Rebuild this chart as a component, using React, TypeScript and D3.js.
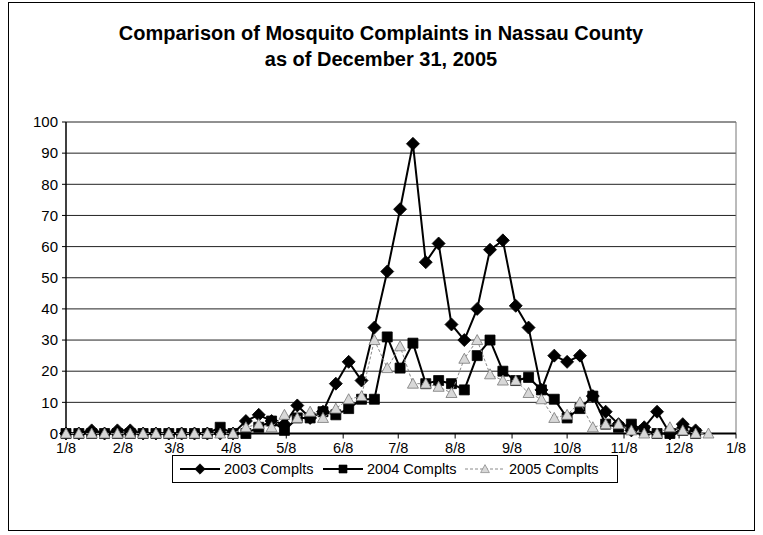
import React from 'react';
import * as d3 from 'd3';

const titleLines = ['Comparison of Mosquito Complaints in Nassau County', 'as of December 31, 2005'];
const seriesNames = ['2003 Complts', '2004 Complts', '2005 Complts'];
const xTickLabels = ['1/8', '2/8', '3/8', '4/8', '5/8', '6/8', '7/8', '8/8', '9/8', '10/8', '11/8', '12/8', '1/8'];
const yTicks = [0, 10, 20, 30, 40, 50, 60, 70, 80, 90, 100];

// weekly complaint counts, first week = 1/8
const complts2003 = [0, 0, 1, 0, 1, 1, 0, 0, 0, 0, 0, 0, 0, 0, 4, 6, 4, 3, 9, 5, 7, 16, 23, 17, 34, 52, 72, 93, 55, 61, 35, 30, 40, 59, 62, 41, 34, 14, 25, 23, 25, 12, 7, 3, 1, 2, 7, 0, 3, 1];
const complts2004 = [0, 0, 0, 0, 0, 0, 0, 0, 0, 0, 0, 0, 2, 0, 0, 2, 4, 1, 5, 5, 7, 6, 8, 11, 11, 31, 21, 29, 16, 17, 16, 14, 25, 30, 20, 17, 18, 14, 11, 5, 8, 12, 3, 2, 3, 1, 0, 0, 1, 0];
const complts2005 = [0, 0, 0, 0, 0, 0, 0, 0, 0, 0, 0, 0, 0, 0, 2, 3, 2, 6, 5, 7, 5, 8, 11, 12, 30, 21, 28, 16, 16, 15, 13, 24, 30, 19, 17, 17, 13, 11, 5, 6, 10, 2, 3, 3, 1, 0, 0, 2, 1, 0, 0];

const start = new Date(2005, 0, 8);
const weekDate = (i: number) => d3.timeDay.offset(start, 7 * i);

const diamond = 'M0,-6.5L6.5,0L0,6.5L-6.5,0Z';
const square = 'M-5,-5H5V5H-5Z';
const triangle = 'M0,-5.5L5.5,4.5L-5.5,4.5Z';

const font = 'Arial, "Liberation Sans", sans-serif';

const App = () => {
  const left = 66, right = 736, top = 122, bottom = 433.5;
  const x = d3.scaleTime().domain([start, new Date(2006, 0, 8)]).range([left, right]);
  const y = d3.scaleLinear().domain([0, 100]).range([bottom, top]);
  const monthTicks = xTickLabels.map((_, m) => new Date(2005, m, 8));

  const line = d3.line<number>().x((_, i) => x(weekDate(i))).y(d => y(d));

  const series = [
    { name: seriesNames[0], data: complts2003, stroke: '#000', width: 2, dash: undefined, marker: diamond, fill: '#000', mstroke: '#000' },
    { name: seriesNames[1], data: complts2004, stroke: '#000', width: 2, dash: undefined, marker: square, fill: '#000', mstroke: '#000' },
    { name: seriesNames[2], data: complts2005, stroke: '#8a8a8a', width: 1, dash: '3,2', marker: triangle, fill: '#d8d8d8', mstroke: '#777' },
  ];

  const legendX = [180, 323, 465];

  return (
    <svg width={763} height={535} style={{ position: 'absolute', left: 0, top: 0, background: '#fff' }}>
      <rect x={8.5} y={2.5} width={746} height={528} fill="#fff" stroke="#000" strokeWidth={1} />
      {titleLines.map((t, i) => (
        <text key={i} x={381} y={40 + i * 26} textAnchor="middle" fontFamily={font} fontWeight="bold" fontSize={20}>{t}</text>
      ))}

      {/* gridlines */}
      {yTicks.filter(v => v > 0).map(v => (
        <line key={v} x1={left} x2={right} y1={y(v)} y2={y(v)} stroke="#222" strokeWidth={1} />
      ))}
      <line x1={right} x2={right} y1={top} y2={bottom} stroke="#777" strokeWidth={1} />

      {/* y axis */}
      <line x1={left} x2={left} y1={top} y2={bottom} stroke="#000" strokeWidth={1.5} />
      {yTicks.map(v => (
        <g key={v}>
          <line x1={left - 4} x2={left} y1={y(v)} y2={y(v)} stroke="#000" />
          <text x={left - 8} y={y(v)} dy="0.35em" textAnchor="end" fontFamily={font} fontSize={15}>{v}</text>
        </g>
      ))}

      {/* x axis */}
      <line x1={left} x2={right} y1={bottom} y2={bottom} stroke="#000" strokeWidth={2} />
      {monthTicks.map((d, i) => (
        <g key={i}>
          <line x1={x(d)} x2={x(d)} y1={bottom} y2={bottom + 5} stroke="#000" />
          <text x={x(d)} y={bottom + 14} dy="0.35em" textAnchor="middle" fontFamily={font} fontSize={14.5}>{xTickLabels[i]}</text>
        </g>
      ))}

      {/* series */}
      {series.map(s => (
        <g key={s.name}>
          <path d={line(s.data) || ''} fill="none" stroke={s.stroke} strokeWidth={s.width} strokeDasharray={s.dash} />
          {s.data.map((v, i) => (
            <path key={i} d={s.marker} transform={`translate(${x(weekDate(i))},${y(v)})`} fill={s.fill} stroke={s.mstroke} strokeWidth={0.8} />
          ))}
        </g>
      ))}

      {/* legend */}
      <rect x={172.5} y={455.5} width={445} height={27} fill="#fff" stroke="#000" />
      {series.map((s, i) => (
        <g key={s.name}>
          <line x1={legendX[i]} x2={legendX[i] + 40} y1={469} y2={469} stroke={s.stroke} strokeWidth={s.width} strokeDasharray={s.dash} />
          <path d={s.marker} transform={`translate(${legendX[i] + 20},469) scale(0.8)`} fill={s.fill} stroke={s.mstroke} strokeWidth={0.8} />
          <text x={legendX[i] + 44} y={469} dy="0.35em" fontFamily={font} fontSize={14.5}>{s.name}</text>
        </g>
      ))}
    </svg>
  );
};

export default App;
